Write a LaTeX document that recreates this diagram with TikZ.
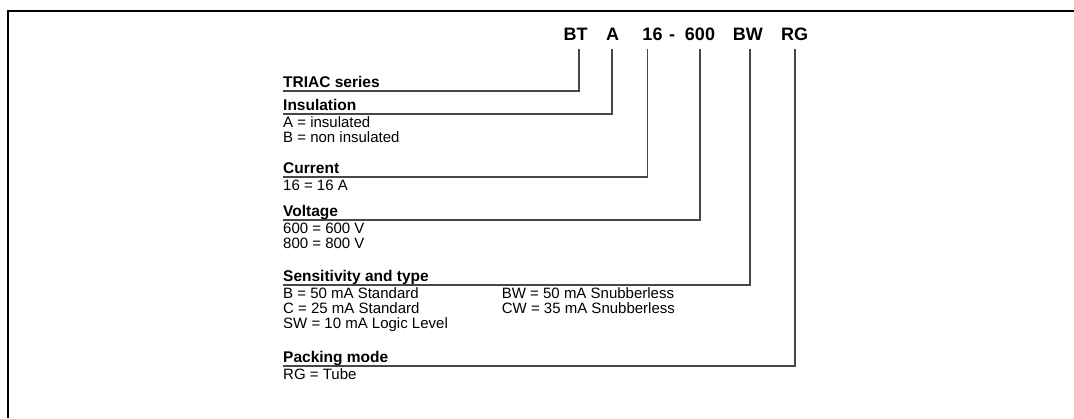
\documentclass[tikz,border=0pt]{standalone}
\usepackage{fontspec}
\setmainfont{Liberation Sans}
\begin{document}
\begin{tikzpicture}[x=1pt,y=-1pt,
  code/.style={inner sep=0pt,anchor=base,font=\fontsize{18}{20}\selectfont\bfseries},
  head/.style={inner sep=0pt,anchor=base west,font=\fontsize{15.5}{18}\selectfont\bfseries},
  item/.style={inner sep=0pt,anchor=base west,font=\fontsize{15}{17.5}\selectfont},
  conn/.style={draw=black!72,line width=1.1pt}]
\useasboundingbox (0,0) rectangle (1074,418);
% frame
\draw[line width=2pt] (8,418) -- (8,11) -- (1074,11);
% code
\node[code] (bt)  at (575.5,40) {BT};
\node[code] (ins) at (612.5,40) {A};
\node[code] (cur) at (652.5,40) {16};
\node[code] (dash) at (672,40) {-};
\node[code] (vol) at (700,40) {600};
\node[code] (sen) at (747.8,40) {BW};
\node[code] (pak) at (794.7,40) {RG};
% headings and items
\node[head] (h1) at (283,87) {TRIAC series};
\node[head] (h2) at (283,110) {Insulation};
\node[item] (a1) at (283,127.5) {A = insulated};
\node[item] (a2) at (283,142.5) {B = non insulated};
\node[head] (h3) at (283,173) {Current};
\node[item] (c1) at (283,190.5) {16 = 16 A};
\node[head] (h4) at (283,216) {Voltage};
\node[item] (v1) at (283,233.5) {600 = 600 V};
\node[item] (v2) at (283,248.5) {800 = 800 V};
\node[head] (h5) at (283,281) {Sensitivity and type};
\node[item] (s1) at (283,298.5) {B = 50 mA Standard};
\node[item] (s2) at (283,313.5) {C = 25 mA Standard};
\node[item] (s3) at (283,328.5) {SW = 10 mA Logic Level};
\node[item] (s4) at (501.7,298.5) {BW = 50 mA Snubberless};
\node[item] (s5) at (501.7,313.5) {CW = 35 mA Snubberless};
\node[head] (h6) at (283,362) {Packing mode};
\node[item] (p1) at (283,379.5) {RG = Tube};
% connectors
\path[conn] ([yshift=-4pt]h1.base west) -| ([xshift=3.5pt,yshift=-9pt]bt.base);
\path[conn] ([yshift=-4pt]h2.base west) -| ([xshift=-0.5pt,yshift=-9pt]ins.base);
\path[conn] ([yshift=-4pt]h3.base west) -| ([xshift=-4.8pt,yshift=-9pt]cur.base);
\path[conn] ([yshift=-4pt]h4.base west) -| ([yshift=-9pt]vol.base);
\path[conn] ([yshift=-4pt]h5.base west) -| ([xshift=2.2pt,yshift=-9pt]sen.base);
\path[conn] ([yshift=-4pt]h6.base west) -| ([xshift=0.3pt,yshift=-9pt]pak.base);
\end{tikzpicture}
\end{document}
